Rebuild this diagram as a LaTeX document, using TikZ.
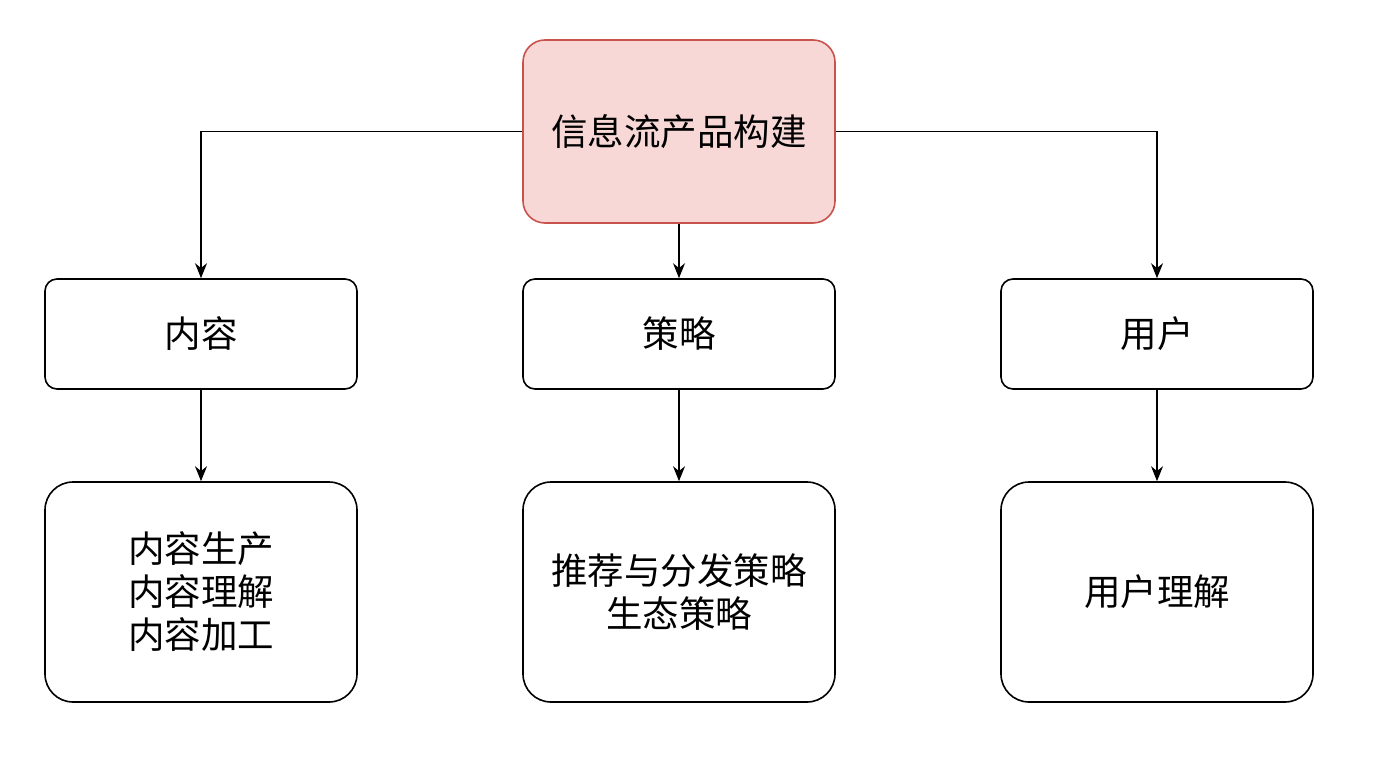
\documentclass[tikz,border=0pt]{standalone}
\usepackage{fontspec}
\setmainfont{Noto Sans CJK SC}
\usetikzlibrary{arrows.meta}
\definecolor{rootfill}{HTML}{F8D8D7}
\definecolor{rootdraw}{HTML}{C8524C}
\tikzset{
  x=1pt,y=-1pt,
  box/.style={draw=black,line width=1.6pt,fill=white,minimum width=312pt,align=center,
    font=\fontsize{36.5}{43}\selectfont},
  midbox/.style={box,minimum height=110pt,rounded corners=12pt},
  lowbox/.style={box,minimum height=220pt,rounded corners=28pt},
  rootbox/.style={box,draw=rootdraw,fill=rootfill,minimum height=183pt,rounded corners=22pt},
  conn/.style={line width=1.4pt,-{Stealth[length=15pt,width=12pt]}}
}
\begin{document}
\begin{tikzpicture}
\useasboundingbox (0,0) rectangle (1384,784);
\node[rootbox] (root) at (679,131.5) {信息流产品构建};
\node[midbox] (c) at (201,334) {内容};
\node[midbox] (s) at (679,334) {策略};
\node[midbox] (u) at (1157,334) {用户};
\node[lowbox] (c2) at (201,592) {内容生产\\内容理解\\内容加工};
\node[lowbox] (s2) at (679,592) {推荐与分发策略\\生态策略};
\node[lowbox] (u2) at (1157,592) {用户理解};
\draw[conn] (root.west) -| (c.north);
\draw[conn] (root.east) -| (u.north);
\draw[conn] (root.south) -- (s.north);
\draw[conn] (c.south) -- (c2.north);
\draw[conn] (s.south) -- (s2.north);
\draw[conn] (u.south) -- (u2.north);
\end{tikzpicture}
\end{document}
